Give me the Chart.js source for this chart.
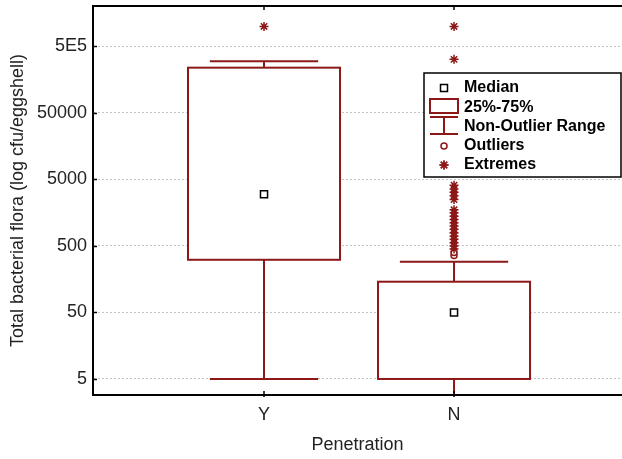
<!DOCTYPE html>
<html>
<head>
<meta charset="utf-8">
<script src="https://cdn.jsdelivr.net/npm/chart.js@4"></script>
<style>
  html, body { margin: 0; padding: 0; background: #fff; overflow: hidden; }
</style>
</head>
<body>
<canvas id="boxChart" width="622" height="459"></canvas>
<script>
// Data
const categories = ["Y", "N"];
const medians = [3000, 50];
const q1 = [310, 5];
const q3 = [240000, 145];
const whiskerLow = [5, 1];
const whiskerHigh = [300000, 290];
const outliersN = [360, 400];
const extremesY = [1000000];
const extremesN = [1000000, 320000, 4100, 3600, 3200, 2850, 2500, 1750, 1580, 1400, 1250, 1120, 1000, 890, 790, 700, 630, 560, 500, 450];
const yTicks = [5, 50, 500, 5000, 50000, 500000];
const yTickLabels = ["5", "50", "500", "5000", "50000", "5E5"];

const red = "#8c1818";
const font = "'Liberation Sans', Arial, Helvetica, sans-serif";
const boxWidth = 0.8;
const capWidth = 0.57;

const noPad = s => { s.paddingTop = 0; s.paddingBottom = 0; s.paddingLeft = 0; s.paddingRight = 0; };

// Box + whisker drawing through the chart's scales
const boxPlugin = {
  id: "boxes",
  beforeDatasetsDraw(chart) {
    const { ctx, chartArea, scales: { x, y } } = chart;
    ctx.save();
    ctx.beginPath();
    ctx.rect(chartArea.left, chartArea.top, chartArea.right - chartArea.left, chartArea.bottom - chartArea.top);
    ctx.clip();
    ctx.strokeStyle = red;
    ctx.lineWidth = 2;
    categories.forEach((c, i) => {
      const cx = x.getPixelForValue(i + 1);
      const bl = x.getPixelForValue(i + 1 - boxWidth / 2);
      const br = x.getPixelForValue(i + 1 + boxWidth / 2);
      const cl = x.getPixelForValue(i + 1 - capWidth / 2);
      const cr = x.getPixelForValue(i + 1 + capWidth / 2);
      const yq1 = y.getPixelForValue(q1[i]);
      const yq3 = y.getPixelForValue(q3[i]);
      const ylo = y.getPixelForValue(whiskerLow[i]);
      const yhi = y.getPixelForValue(whiskerHigh[i]);
      ctx.beginPath();
      // whiskers
      ctx.moveTo(cx, yq3); ctx.lineTo(cx, yhi);
      ctx.moveTo(cl, yhi); ctx.lineTo(cr, yhi);
      ctx.moveTo(cx, yq1); ctx.lineTo(cx, ylo);
      ctx.moveTo(cl, ylo); ctx.lineTo(cr, ylo);
      ctx.stroke();
      ctx.fillStyle = "#fff";
      ctx.fillRect(bl, yq3, br - bl, yq1 - yq3);
      ctx.strokeRect(bl, yq3, br - bl, yq1 - yq3);
    });
    ctx.restore();
  },
  afterDraw(chart) {
    const { ctx, chartArea, scales: { x, y } } = chart;
    ctx.save();
    // top frame line + inward ticks
    ctx.strokeStyle = "#000";
    ctx.lineWidth = 2;
    ctx.beginPath();
    ctx.moveTo(chartArea.left - 1, chartArea.top);
    ctx.lineTo(chartArea.right, chartArea.top);
    ctx.stroke();
    ctx.lineWidth = 1.5;
    ctx.beginPath();
    categories.forEach((c, i) => {
      const cx = Math.round(x.getPixelForValue(i + 1));
      ctx.moveTo(cx, chartArea.top);
      ctx.lineTo(cx, chartArea.top + 4);
      ctx.moveTo(cx, chartArea.bottom + 2);
      ctx.lineTo(cx, chartArea.bottom - 4);
    });
    yTicks.forEach(v => {
      const py = Math.round(y.getPixelForValue(v)) + 0.5;
      ctx.moveTo(chartArea.left, py);
      ctx.lineTo(chartArea.left + 4, py);
    });
    ctx.stroke();

    // legend
    const lx = 424, ly = 73, lw = 197, lh = 104;
    ctx.fillStyle = "#fff";
    ctx.fillRect(lx, ly, lw, lh);
    ctx.lineWidth = 1.5;
    ctx.strokeStyle = "#000";
    ctx.strokeRect(lx, ly, lw, lh);

    const ix = 444;
    // median
    ctx.lineWidth = 1.5;
    ctx.strokeRect(ix - 3.5, 88 - 3.5, 7, 7);
    // box
    ctx.strokeStyle = red;
    ctx.lineWidth = 2;
    ctx.strokeRect(430, 99, 28, 14);
    // whisker
    ctx.beginPath();
    ctx.moveTo(430, 117); ctx.lineTo(458, 117);
    ctx.moveTo(ix, 117); ctx.lineTo(ix, 134);
    ctx.moveTo(430, 134); ctx.lineTo(458, 134);
    ctx.stroke();
    // outlier
    ctx.lineWidth = 1.5;
    ctx.beginPath();
    ctx.arc(ix, 146, 3, 0, Math.PI * 2);
    ctx.stroke();
    // extreme
    Chart.helpers.drawPoint(ctx, { pointStyle: "star", radius: 4.5, borderWidth: 1.5 }, ix, 165);
    ctx.stroke();

    ctx.fillStyle = "#000";
    ctx.font = "bold 16px " + font;
    ctx.textBaseline = "middle";
    ctx.textAlign = "left";
    const labels = ["Median", "25%-75%", "Non-Outlier Range", "Outliers", "Extremes"];
    const ys = [88, 108, 127, 146, 165];
    labels.forEach((t, k) => ctx.fillText(t, 464, ys[k]));
    ctx.restore();
  }
};

const canvas = document.getElementById("boxChart");
const ctx = canvas.getContext("2d");

new Chart(ctx, {
  type: "scatter",
  data: {
    datasets: [
      {
        label: "Extremes",
        data: extremesY.map(v => ({ x: 1, y: v })).concat(extremesN.map(v => ({ x: 2, y: v }))),
        pointStyle: "star",
        pointRadius: 4.5,
        borderColor: red,
        borderWidth: 1.5
      },
      {
        label: "Outliers",
        data: outliersN.map(v => ({ x: 2, y: v })),
        pointStyle: "circle",
        pointRadius: 3,
        backgroundColor: "#fff",
        borderColor: red,
        borderWidth: 1.5
      },
      {
        label: "Median",
        data: medians.map((v, i) => ({ x: i + 1, y: v })),
        pointStyle: "rect",
        pointRadius: 5,
        backgroundColor: "#fff",
        borderColor: "#000",
        borderWidth: 1.5
      }
    ]
  },
  options: {
    responsive: false,
    animation: false,
    devicePixelRatio: 1,
    layout: { autoPadding: false, padding: { top: 6, right: 0, left: 0, bottom: 0 } },
    plugins: {
      legend: { display: false },
      tooltip: { enabled: false }
    },
    scales: {
      x: {
        type: "linear",
        min: 0.1,
        max: 2.884,
        afterBuildTicks: s => { s.ticks = [{ value: 1 }, { value: 2 }]; },
        afterFit: s => { s.height = 64; noPad(s); },
        ticks: {
          callback: v => categories[v - 1],
          color: "#222",
          font: { family: font, size: 18 },
          padding: 9,
          maxRotation: 0
        },
        grid: { drawOnChartArea: false, drawTicks: false },
        border: { display: true, color: "#000", width: 2 },
        title: {
          display: true,
          text: "Penetration",
          color: "#222",
          font: { family: font, size: 18 },
          padding: { top: 0, bottom: 3 }
        }
      },
      y: {
        type: "logarithmic",
        min: 2.87,
        max: 2030000,
        afterBuildTicks: s => { s.ticks = yTicks.map(v => ({ value: v })); },
        afterFit: s => { s.width = 93; noPad(s); },
        ticks: {
          callback: v => yTickLabels[yTicks.indexOf(v)],
          color: "#222",
          font: { family: font, size: 18 },
          padding: 6
        },
        grid: {
          color: "#c4c4c4",
          lineWidth: 1,
          drawTicks: false
        },
        border: { display: true, color: "#000", width: 2, dash: [2, 2] },
        title: {
          display: true,
          text: "Total bacterial flora (log cfu/eggshell)",
          color: "#222",
          font: { family: font, size: 18 },
          padding: { top: 7, bottom: 4 }
        }
      }
    }
  },
  plugins: [boxPlugin]
});
</script>
</body>
</html>
